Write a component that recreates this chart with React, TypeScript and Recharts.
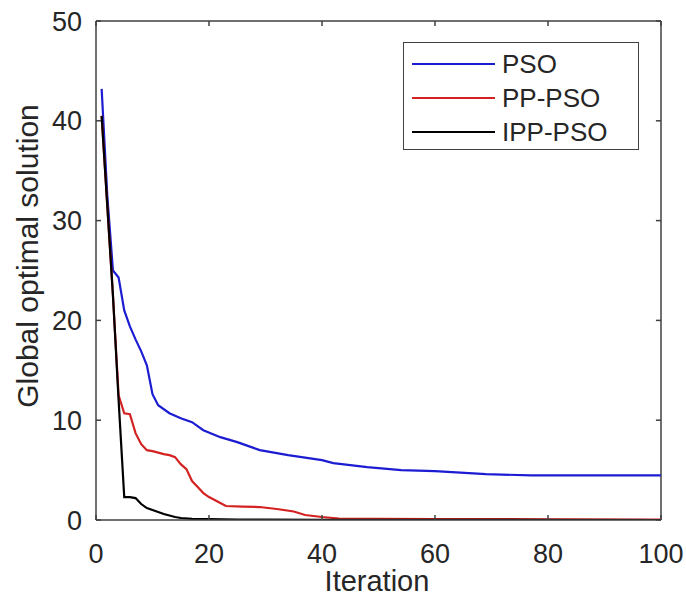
import { Label, Legend, Line, LineChart, ReferenceLine, XAxis, YAxis } from 'recharts'

const psoIteration = [1, 2, 3, 4, 5, 6, 7, 8, 9, 10, 11, 13, 15, 17, 19, 22, 25, 29, 34, 40, 42, 48, 54, 60, 69, 77, 100]
const psoValue = [43.2, 32.5, 25.0, 24.3, 21.0, 19.4, 18.1, 16.9, 15.5, 12.6, 11.5, 10.7, 10.2, 9.8, 9.0, 8.3, 7.8, 7.0, 6.5, 6.0, 5.7, 5.3, 5.0, 4.9, 4.6, 4.47, 4.47]

const ppIteration = [1, 2, 3, 4, 5, 6, 7, 8, 9, 10, 12, 13, 14, 15, 16, 17, 18, 19, 20, 21, 22, 23, 26, 29, 32, 35, 37, 40, 43, 50, 60, 80, 100]
const ppValue = [40.5, 31.5, 22.5, 12.5, 10.7, 10.6, 8.7, 7.6, 7.0, 6.9, 6.6, 6.5, 6.3, 5.6, 5.1, 3.9, 3.3, 2.7, 2.3, 2.0, 1.7, 1.4, 1.35, 1.3, 1.1, 0.85, 0.5, 0.3, 0.15, 0.12, 0.1, 0.07, 0.05]

const ippIteration = [1, 2, 3, 4, 5, 6, 7, 8, 9, 10, 11, 12, 13, 14, 15, 17, 20, 25, 30, 40, 100]
const ippValue = [40.5, 31.5, 22.5, 12, 2.3, 2.3, 2.2, 1.6, 1.2, 1.0, 0.8, 0.6, 0.45, 0.3, 0.2, 0.12, 0.08, 0.05, 0.03, 0.01, 0]

const xTicks = [0, 20, 40, 60, 80, 100]
const yTicks = [0, 10, 20, 30, 40, 50]

const series = [
  { name: 'PSO', color: '#1c1cd2', iteration: psoIteration, value: psoValue },
  { name: 'PP-PSO', color: '#d42222', iteration: ppIteration, value: ppValue },
  { name: 'IPP-PSO', color: '#000000', iteration: ippIteration, value: ippValue },
]

const FONT = '"Liberation Sans", Arial, Helvetica, sans-serif'
const AXIS = '#404040'
const TEXT = '#262626'

function toPoints(iteration: number[], value: number[]) {
  return iteration.map((x, i) => ({ x, y: value[i] }))
}

function LegendBox() {
  return (
    <div
      style={{
        border: `1.2px solid ${AXIS}`,
        background: '#fff',
        width: 236,
        height: 108,
        boxSizing: 'border-box',
        paddingTop: 4,
        fontFamily: FONT,
        fontSize: 26,
        color: TEXT,
      }}
    >
      {series.map((s) => (
        <div key={s.name} style={{ display: 'flex', alignItems: 'center', height: 34 }}>
          <div style={{ width: 83, height: 2.5, background: s.color, marginLeft: 8, marginRight: 7 }} />
          <span>{s.name}</span>
        </div>
      ))}
    </div>
  )
}

export default function App() {
  const tickStyle = { fontFamily: FONT, fontSize: 27, fill: TEXT }
  return (
    <div style={{ position: 'absolute', left: 0, top: 0, background: '#fff' }}>
      <LineChart width={686} height={605} margin={{ top: 21, right: 25, bottom: 0, left: 0 }}>
        <XAxis
          dataKey="x"
          type="number"
          domain={[0, 100]}
          ticks={xTicks}
          height={85}
          allowDataOverflow
          stroke={AXIS}
          strokeWidth={1.5}
          tickSize={-5}
          tickMargin={29}
          tick={tickStyle}
        >
          <Label
            content={() => (
              <text x={377} y={591} textAnchor="middle" fontFamily={FONT} fontSize={29} fill={TEXT}>
                Iteration
              </text>
            )}
          />
        </XAxis>
        <YAxis
          type="number"
          domain={[0, 50]}
          ticks={yTicks}
          width={96}
          allowDataOverflow
          stroke={AXIS}
          strokeWidth={1.5}
          tickSize={-5}
          tickMargin={19}
          tick={tickStyle}
        >
          <Label
            content={() => (
              <text
                x={38}
                y={256}
                textAnchor="middle"
                fontFamily={FONT}
                fontSize={30}
                fill={TEXT}
                transform="rotate(-90, 38, 256)"
              >
                Global optimal solution
              </text>
            )}
          />
        </YAxis>
        <ReferenceLine y={50} stroke={AXIS} strokeWidth={1.5} />
        <ReferenceLine x={100} stroke={AXIS} strokeWidth={1.5} />
        {xTicks.map((t) => (
          <ReferenceLine
            key={`tx${t}`}
            segment={[
              { x: t, y: 50 },
              { x: t, y: 49.5 },
            ]}
            stroke={AXIS}
            strokeWidth={1.5}
          />
        ))}
        {yTicks.map((t) => (
          <ReferenceLine
            key={`ty${t}`}
            segment={[
              { x: 100, y: t },
              { x: 99.1, y: t },
            ]}
            stroke={AXIS}
            strokeWidth={1.5}
          />
        ))}
        <Legend
          layout="vertical"
          align="center"
          verticalAlign="middle"
          wrapperStyle={{ left: 403, top: 42, width: 236 }}
          content={() => <LegendBox />}
        />
        {series.map((s) => (
          <Line
            key={s.name}
            name={s.name}
            data={toPoints(s.iteration, s.value)}
            dataKey="y"
            type="linear"
            stroke={s.color}
            strokeWidth={2.2}
            dot={false}
            isAnimationActive={false}
          />
        ))}
      </LineChart>
    </div>
  )
}
